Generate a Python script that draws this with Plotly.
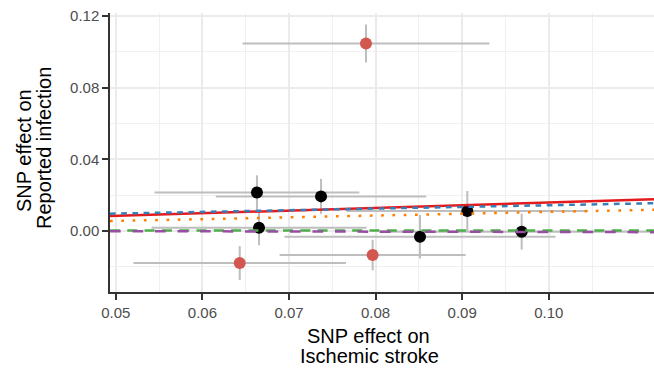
import plotly.graph_objects as go

# ---- data ----
snp_x = [0.07889, 0.06630, 0.07370, 0.06654, 0.06431, 0.07966, 0.08513, 0.09059, 0.09687]
snp_y = [0.1047, 0.02159, 0.01936, 0.0019, -0.01785, -0.01339, -0.00312, 0.01116, -0.00033]
snp_x_err = [0.01425, 0.01182, 0.01215, 0.01241, 0.01227, 0.01074, 0.01565, 0.01395, 0.0165]
snp_y_err = [0.0106, 0.0095, 0.0098, 0.0098, 0.0095, 0.00855, 0.0121, 0.0112, 0.0100]
snp_outlier = [True, False, False, False, True, True, False, False, False]

method_names = ["Inverse variance weighted", "MR Egger", "Weighted median", "Simple mode", "Weighted mode"]
method_intercepts = [0.00105, 0.00513, 0.00059, 0.0003, 0.0004]
method_slopes = [0.1484, 0.0929, 0.1011, 0.0, -0.009]

x_ticks = [0.05, 0.06, 0.07, 0.08, 0.09, 0.10]
x_tick_labels = ["0.05", "0.06", "0.07", "0.08", "0.09", "0.10"]
x_minor = [0.055, 0.065, 0.075, 0.085, 0.095, 0.105]
y_ticks = [0.0, 0.04, 0.08, 0.12]
y_tick_labels = ["0.00", "0.04", "0.08", "0.12"]
y_minor = [-0.02, 0.02, 0.06, 0.10]

x_title_lines = ["SNP effect on", "Ischemic stroke"]
y_title_lines = ["SNP effect on", "Reported infection"]

# ---- styling ----
x_range = [0.04933, 0.11215]
y_range = [-0.0340, 0.1217]
line_colors = ["#E41A1C", "#377EB8", "#FF7F00", "#4DAF4A", "#984EA3"]
line_dashes = ["solid", "5.7px,5.5px", "2.7px,8.6px", "10px,7.3px", "10.7px,11.8px"]
point_red = "#D1574F"
font_family = "Liberation Sans, Arial, sans-serif"

fig = go.Figure()

# error bars (drawn first, underneath)
fig.add_trace(go.Scatter(
    x=snp_x, y=snp_y, mode="markers",
    marker=dict(size=1, opacity=0),
    error_x=dict(type="data", array=snp_x_err, color="#BEBEBE", thickness=2, width=0),
    error_y=dict(type="data", array=snp_y_err, color="#BEBEBE", thickness=2, width=0),
    hoverinfo="skip", showlegend=False,
))

# points
blk_x = [x for x, o in zip(snp_x, snp_outlier) if not o]
blk_y = [y for y, o in zip(snp_y, snp_outlier) if not o]
red_x = [x for x, o in zip(snp_x, snp_outlier) if o]
red_y = [y for y, o in zip(snp_y, snp_outlier) if o]
fig.add_trace(go.Scatter(x=blk_x, y=blk_y, mode="markers",
                         marker=dict(size=12, color="black"), showlegend=False))
fig.add_trace(go.Scatter(x=red_x, y=red_y, mode="markers",
                         marker=dict(size=12, color=point_red), showlegend=False))

# method lines across the panel
for name, a, b, c, d in zip(method_names, method_intercepts, method_slopes, line_colors, line_dashes):
    xs = [x_range[0], x_range[1]]
    ys = [a + b * xv for xv in xs]
    fig.add_trace(go.Scatter(x=xs, y=ys, mode="lines", name=name,
                             line=dict(color=c, width=2.5, dash=d), showlegend=False))

W, H = 654, 368
ml, mr, mt, mb = 110, 0, 13, 76
pw, ph = W - ml - mr, H - mt - mb

def px_x(p):
    return (p - ml) / pw

def px_y(p):
    return (H - mb - p) / ph

axis_common = dict(
    showline=True, linecolor="#333333", linewidth=1.5, mirror=False,
    ticks="outside", ticklen=6, tickwidth=1.5, tickcolor="#333333",
    showgrid=True, gridcolor="#EBEBEB", gridwidth=1.5, zeroline=False,
    tickfont=dict(family=font_family, size=15, color="#4D4D4D"),
)

fig.update_layout(
    width=W, height=H,
    margin=dict(l=ml, r=mr, t=mt, b=mb),
    paper_bgcolor="white", plot_bgcolor="white",
    font=dict(family=font_family),
    xaxis=dict(range=x_range, tickvals=x_ticks, ticktext=x_tick_labels,
               minor=dict(tickvals=x_minor, showgrid=True, gridcolor="#F0F0F0", gridwidth=1, ticklen=0),
               **axis_common),
    yaxis=dict(range=y_range, tickvals=y_ticks, ticktext=y_tick_labels,
               minor=dict(tickvals=y_minor, showgrid=True, gridcolor="#F0F0F0", gridwidth=1, ticklen=0),
               **axis_common),
    showlegend=False,
)

ann = []
ann.append(dict(text=x_title_lines[0], x=px_x(368), y=px_y(336), xref="paper", yref="paper",
                showarrow=False, xanchor="center", yanchor="middle",
                font=dict(family=font_family, size=20, color="black")))
ann.append(dict(text=x_title_lines[1], x=px_x(369), y=px_y(356), xref="paper", yref="paper",
                showarrow=False, xanchor="center", yanchor="middle",
                font=dict(family=font_family, size=20, color="black")))
ann.append(dict(text=y_title_lines[0], x=px_x(24), y=px_y(151), xref="paper", yref="paper",
                showarrow=False, xanchor="center", yanchor="middle", textangle=-90,
                font=dict(family=font_family, size=20, color="black")))
ann.append(dict(text=y_title_lines[1], x=px_x(44), y=px_y(148), xref="paper", yref="paper",
                showarrow=False, xanchor="center", yanchor="middle", textangle=-90,
                font=dict(family=font_family, size=20, color="black")))
fig.update_layout(annotations=ann)

fig.write_html("out.html", config={"displayModeBar": False},
               post_script="document.body.style.margin='0';")
